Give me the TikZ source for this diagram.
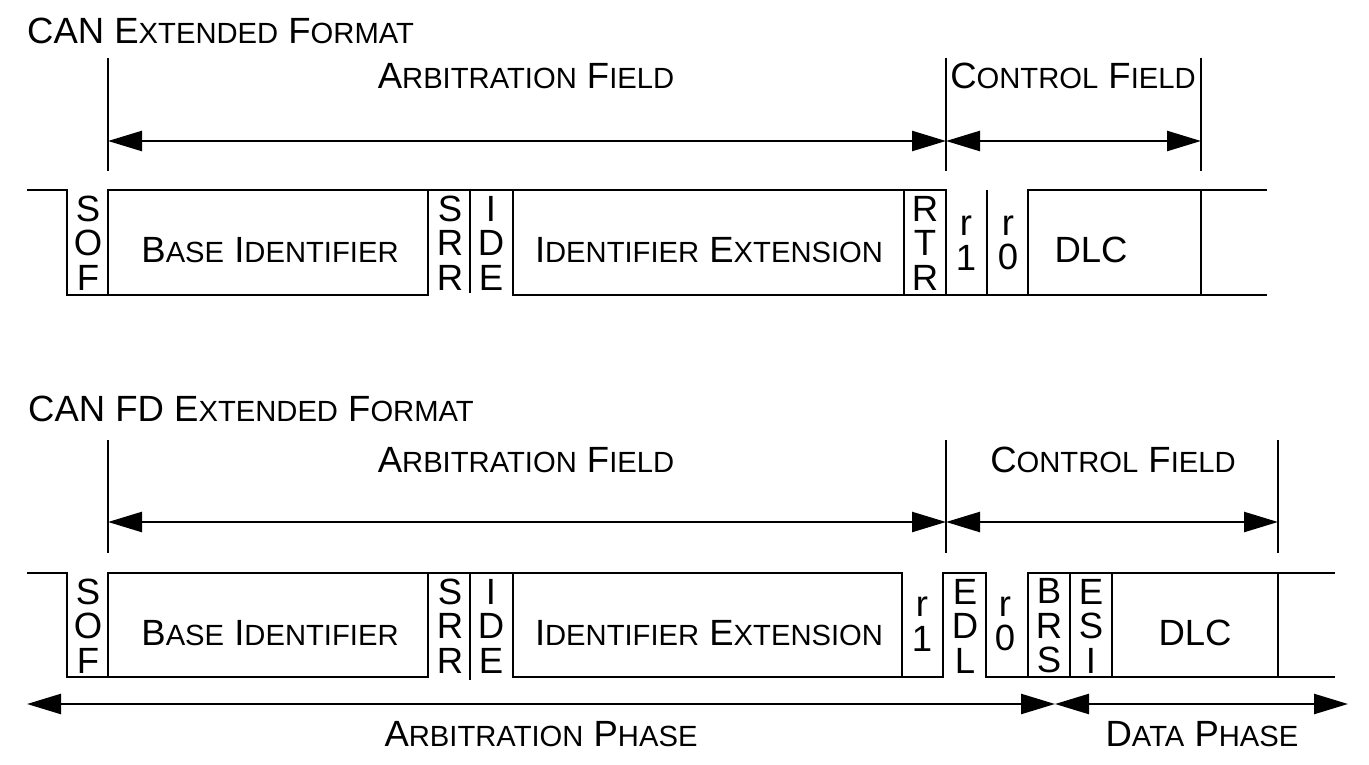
\documentclass[tikz,border=0pt]{standalone}
\usepackage{fontspec}
\setmainfont{Liberation Sans}
\usetikzlibrary{arrows.meta,positioning}
\newlength\capsz
\setlength\capsz{36.5pt}
% small caps made by hand: smaller upper case letters
\newcommand\lc[1]{{\fontsize{0.8\capsz}{0.8\capsz}\selectfont #1}}

\begin{document}
\begin{tikzpicture}[x=1pt,y=-1pt,
  sig/.style={line width=2.6pt,line join=miter},
  tick/.style={line width=2.4pt},
  dim/.style={{Triangle[length=34pt,width=20pt]}-{Triangle[length=34pt,width=20pt]},line width=2.4pt},
  lbl/.style={inner sep=0pt,font=\fontsize{\capsz}{\capsz}\selectfont},
  stack/.style={inner sep=0pt,align=center,font=\fontsize{\capsz}{34.5pt}\selectfont}]
\useasboundingbox (0,0) rectangle (1369,765);

% ---------------- CAN extended format ----------------
\node[lbl,anchor=base west] (ttl1) at (27,44) {CAN E\lc{XTENDED} F\lc{ORMAT}};
\draw[tick] (108,58) -- (108,171);
\draw[tick] (946,58) -- (946,171);
\draw[tick] (1201,58) -- (1201,171);
\coordinate (arbL1) at (108,141);
\coordinate (arbR1) at (946,141);
\coordinate (ctlR1) at (1201,141);
\draw[dim] (arbL1) -- (arbR1);
\draw[dim] (arbR1) -- (ctlR1);
\node[lbl,anchor=base] (arbf1) at (526,89) {A\lc{RBITRATION} F\lc{IELD}};
\node[lbl,anchor=base] (ctlf1) at (1073,89) {C\lc{ONTROL} F\lc{IELD}};

% bit levels
\draw[sig] (27,190) -- (67,190) -- (67,295) -- (428,295) -- (428,190);
\draw[sig] (108,295) -- (108,190) -- (946,190) -- (946,295);
\draw[sig] (513,190) -- (513,295) -- (1267,295);
\draw[sig] (904,190) -- (904,295);
\draw[sig] (1028,295) -- (1028,190) -- (1267,190);
\draw[sig] (1201,190) -- (1201,295);
\draw[sig] (470,190) -- (470,293);
\draw[sig] (987,190) -- (987,295);

\node[stack] (sof1) at (88,243) {S\\O\\F};
\node[lbl,anchor=base] (bid1) at (270,262) {B\lc{ASE} I\lc{DENTIFIER}};
\node[stack] (srr1) at (450,243) {S\\R\\R};
\node[stack] (ide1) at (491,243) {I\\D\\E};
\node[lbl,anchor=base] (ext1) at (709,262) {I\lc{DENTIFIER} E\lc{XTENSION}};
\node[stack] (rtr1) at (925,243) {R\\T\\R};
\node[stack] (ra1) at (966,243) {r\\1};
\node[stack] (rb1) at (1008,243) {r\\0};
\node[lbl,anchor=base] (dlc1) at (1091,262) {DLC};

% ---------------- CAN FD extended format ----------------
\node[lbl,anchor=base west] (ttl2) at (28,421) {CAN FD E\lc{XTENDED} F\lc{ORMAT}};
\draw[tick] (108,440) -- (108,553);
\draw[tick] (946,440) -- (946,553);
\draw[tick] (1278,440) -- (1278,553);
\coordinate (arbL2) at (108,522);
\coordinate (arbR2) at (946,522);
\coordinate (ctlR2) at (1278,522);
\draw[dim] (arbL2) -- (arbR2);
\draw[dim] (arbR2) -- (ctlR2);
\node[lbl,anchor=base] (arbf2) at (526,472) {A\lc{RBITRATION} F\lc{IELD}};
\node[lbl,anchor=base] (ctlf2) at (1113,472) {C\lc{ONTROL} F\lc{IELD}};

% bit levels
\draw[sig] (27,573) -- (67,573) -- (67,677) -- (428,677) -- (428,573);
\draw[sig] (108,677) -- (108,573) -- (902,573) -- (902,677);
\draw[sig] (513,573) -- (513,677) -- (943,677) -- (943,573) -- (986,573) -- (986,677) -- (1335,677);
\draw[sig] (1028,677) -- (1028,573) -- (1335,573);
\draw[sig] (1070,573) -- (1070,677);
\draw[sig] (1112,573) -- (1112,677);
\draw[sig] (1278,573) -- (1278,677);
\draw[sig] (470,573) -- (470,680);

\node[stack] (sof2) at (88,626) {S\\O\\F};
\node[lbl,anchor=base] (bid2) at (270,645) {B\lc{ASE} I\lc{DENTIFIER}};
\node[stack] (srr2) at (450,626) {S\\R\\R};
\node[stack] (ide2) at (491,626) {I\\D\\E};
\node[lbl,anchor=base] (ext2) at (709,645) {I\lc{DENTIFIER} E\lc{XTENSION}};
\node[stack] (ra2) at (922,624) {r\\1};
\node[stack] (edl2) at (965,626) {E\\D\\L};
\node[stack] (rb2) at (1005,624) {r\\0};
\node[stack] (brs2) at (1049,626) {B\\R\\S};
\node[stack] (esi2) at (1091,626) {E\\S\\I};
\node[lbl,anchor=base] (dlc2) at (1195,645) {DLC};

% phases
\coordinate (phL) at (27,704);
\coordinate (phM) at (1055,704);
\coordinate (phR) at (1348,704);
\draw[dim] (phL) -- (phM);
\draw[dim] (phM) -- (phR);
\node[lbl,anchor=base] (arbph) at (541,746) {A\lc{RBITRATION} P\lc{HASE}};
\node[lbl,anchor=base] (datph) at (1202,746) {D\lc{ATA} P\lc{HASE}};
\end{tikzpicture}
\end{document}
